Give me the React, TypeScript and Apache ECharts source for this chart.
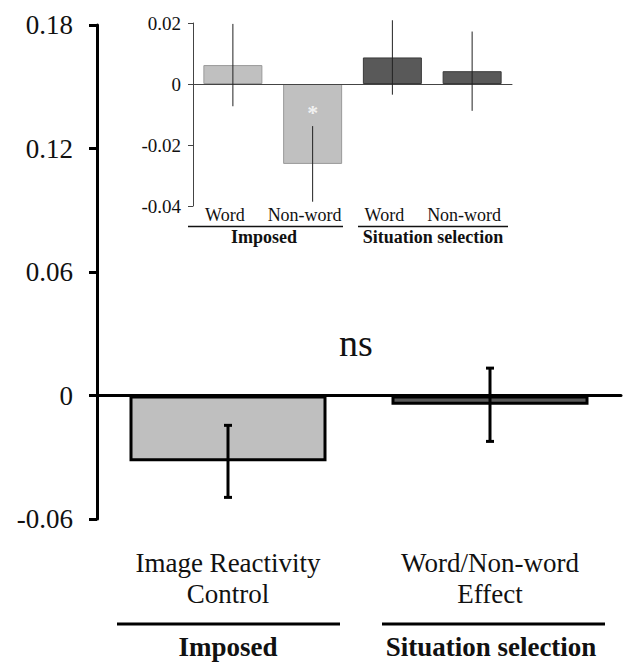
import React, { useEffect, useRef } from "react";
import * as echarts from "echarts";

const mainCategories = ["Image Reactivity\nControl", "Word/Non-word\nEffect"];
const mainValues = [-0.032, -0.0045];
const mainErrors = [0.0175, 0.0178];
const mainColors = ["#bfbfbf", "#595959"];
const mainTicks = [-0.06, 0.18, 0.06];
const mainGroups = ["Imposed", "Situation selection"];

const insetCategories = ["Word", "Non-word", "Word ", "Non-word "];
const insetValues = [0.0062, -0.0262, 0.0087, 0.0042];
const insetErrors = [0.0135, 0.0124, 0.0122, 0.013];
const insetColors = ["#c0c0c0", "#c0c0c0", "#595959", "#595959"];
const insetBorders = ["#9a9a9a", "#9a9a9a", "#3a3a3a", "#3a3a3a"];
const insetTicks = [-0.04, 0.02, 0.02];
const insetGroups = ["Imposed", "Situation selection"];
const starPoint = [1, -0.0095];
const nsLabel = "ns";

const FONT = "Liberation Serif";

const fmt = (v: number) => (Math.abs(v) < 1e-9 ? "0" : v.toFixed(2));

export default function App() {
  const ref = useRef<HTMLDivElement>(null);
  useEffect(() => {
    if (!ref.current) return;
    const chart = echarts.init(ref.current, null, { renderer: "svg" });

    const errRender = (lw: number, cap: number, color: string) => (params: any, api: any) => {
      const x = api.value(0);
      const y = api.value(1);
      const e = api.value(2);
      const top = api.coord([x, y + e]);
      const bot = api.coord([x, y - e]);
      const style = { stroke: color, lineWidth: lw };
      const children: any[] = [
        { type: "line", shape: { x1: top[0], y1: top[1], x2: bot[0], y2: bot[1] }, style },
      ];
      if (cap > 0) {
        children.push({ type: "line", shape: { x1: top[0] - cap / 2, y1: top[1], x2: top[0] + cap / 2, y2: top[1] }, style });
        children.push({ type: "line", shape: { x1: bot[0] - cap / 2, y1: bot[1], x2: bot[0] + cap / 2, y2: bot[1] }, style });
      }
      return { type: "group", children };
    };

    const option: any = {
      animation: false,
      backgroundColor: "#ffffff",
      textStyle: { fontFamily: FONT },
      grid: [
        { left: 97, top: 25, width: 524, height: 494 },
        { left: 193, top: 23, width: 319, height: 183 },
      ],
      xAxis: [
        {
          type: "category",
          gridIndex: 0,
          data: mainCategories,
          position: "bottom",
          axisLine: { onZero: true, lineStyle: { color: "#000", width: 3 } },
          axisTick: { show: false },
          axisLabel: { show: false },
          z: 3,
        },
        {
          type: "category",
          gridIndex: 0,
          data: mainCategories,
          position: "bottom",
          axisLine: { show: false, onZero: false },
          axisTick: { show: false },
          axisLabel: {
            interval: 0,
            margin: 28,
            fontSize: 27,
            lineHeight: 31,
            color: "#111",
            fontFamily: FONT,
          },
        },
        {
          type: "category",
          gridIndex: 1,
          data: insetCategories,
          position: "bottom",
          axisLine: { onZero: true, lineStyle: { color: "#444", width: 1 } },
          axisTick: { show: false },
          axisLabel: { show: false },
          z: 3,
        },
        {
          type: "category",
          gridIndex: 1,
          data: insetCategories,
          position: "bottom",
          axisLine: { show: false, onZero: false },
          axisTick: { show: false },
          axisLabel: {
            interval: 0,
            hideOverlap: false,
            margin: 0,
            fontSize: 18,
            color: "#111",
            fontFamily: FONT,
            padding: [0, 16, 0, 0],
            formatter: (v: string) => v.trim(),
          },
        },
      ],
      yAxis: [
        {
          type: "value",
          gridIndex: 0,
          min: mainTicks[0],
          max: mainTicks[1],
          interval: mainTicks[2],
          axisLine: { show: true, lineStyle: { color: "#000", width: 3 } },
          axisTick: { show: true, inside: false, length: 8, lineStyle: { color: "#000", width: 3 } },
          splitLine: { show: false },
          axisLabel: { margin: 24, fontSize: 27, color: "#111", fontFamily: FONT, formatter: fmt },
        },
        {
          type: "value",
          gridIndex: 1,
          min: insetTicks[0],
          max: insetTicks[1],
          interval: insetTicks[2],
          axisLine: { show: true, lineStyle: { color: "#444", width: 1 } },
          axisTick: { show: true, length: 5, lineStyle: { color: "#444", width: 1 } },
          splitLine: { show: false },
          axisLabel: { margin: 12, fontSize: 19, color: "#111", fontFamily: FONT, formatter: fmt },
        },
      ],
      series: [
        {
          type: "bar",
          xAxisIndex: 0,
          yAxisIndex: 0,
          barWidth: 197,
          data: mainValues.map((v, i) => ({
            value: v,
            itemStyle: { color: mainColors[i], borderColor: "#000", borderWidth: 3 },
          })),
          z: 2,
        },
        {
          type: "custom",
          xAxisIndex: 0,
          yAxisIndex: 0,
          renderItem: errRender(3, 8, "#000"),
          data: mainValues.map((v, i) => [i, v, mainErrors[i]]),
          z: 5,
        },
        {
          type: "bar",
          xAxisIndex: 2,
          yAxisIndex: 1,
          barWidth: 59,
          data: insetValues.map((v, i) => ({
            value: v,
            itemStyle: { color: insetColors[i], borderColor: insetBorders[i], borderWidth: 1 },
          })),
          z: 2,
        },
        {
          type: "custom",
          xAxisIndex: 2,
          yAxisIndex: 1,
          renderItem: errRender(1, 0, "#222"),
          data: insetValues.map((v, i) => [i, v, insetErrors[i]]),
          z: 5,
        },
        {
          type: "scatter",
          xAxisIndex: 2,
          yAxisIndex: 1,
          symbolSize: 0,
          data: [starPoint],
          label: {
            show: true,
            position: "inside",
            formatter: "*",
            color: "#ffffff",
            fontSize: 22,
            fontWeight: "bold",
            fontFamily: FONT,
          },
          z: 6,
        },
      ],
      graphic: [
        { type: "line", shape: { x1: 117, y1: 624, x2: 340, y2: 624 }, style: { stroke: "#000", lineWidth: 3 } },
        { type: "line", shape: { x1: 382, y1: 624, x2: 605, y2: 624 }, style: { stroke: "#000", lineWidth: 3 } },
        {
          type: "text",
          x: 228,
          y: 647,
          style: { text: mainGroups[0], fontFamily: FONT, fontSize: 27, fontWeight: "bold", fill: "#111", align: "center", verticalAlign: "middle" },
        },
        {
          type: "text",
          x: 491,
          y: 647,
          style: { text: mainGroups[1], fontFamily: FONT, fontSize: 27, fontWeight: "bold", fill: "#111", align: "center", verticalAlign: "middle" },
        },
        { type: "line", shape: { x1: 188, y1: 226.5, x2: 343, y2: 226.5 }, style: { stroke: "#111", lineWidth: 1.5 } },
        { type: "line", shape: { x1: 358, y1: 226.5, x2: 508, y2: 226.5 }, style: { stroke: "#111", lineWidth: 1.5 } },
        {
          type: "text",
          x: 264,
          y: 237,
          style: { text: insetGroups[0], fontFamily: FONT, fontSize: 18, fontWeight: "bold", fill: "#111", align: "center", verticalAlign: "middle" },
        },
        {
          type: "text",
          x: 433,
          y: 237,
          style: { text: insetGroups[1], fontFamily: FONT, fontSize: 18, fontWeight: "bold", fill: "#111", align: "center", verticalAlign: "middle" },
        },
        {
          type: "text",
          x: 356,
          y: 343,
          style: { text: nsLabel, fontFamily: FONT, fontSize: 38, fill: "#111", align: "center", verticalAlign: "middle" },
        },
      ],
    };
    chart.setOption(option);
    return () => chart.dispose();
  }, []);
  return (
    <div
      ref={ref}
      style={{ position: "absolute", left: 0, top: 0, width: 628, height: 662, background: "#fff" }}
    />
  );
}
